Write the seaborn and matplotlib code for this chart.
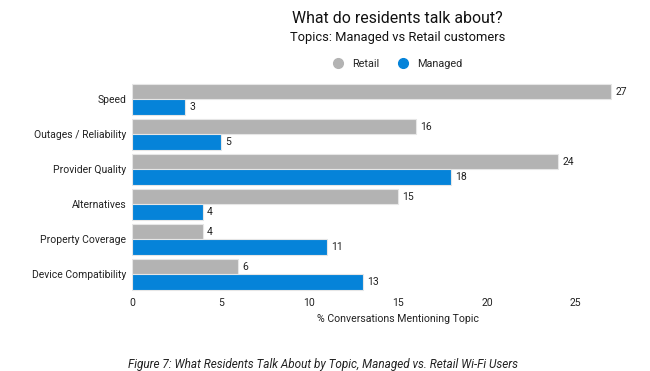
import matplotlib
matplotlib.use("Agg")
import matplotlib.pyplot as plt
import seaborn as sns
import pandas as pd
from matplotlib.lines import Line2D

categories = ["Speed", "Outages / Reliability", "Provider Quality", "Alternatives",
              "Property Coverage", "Device Compatibility"]
retail = [27, 16, 24, 15, 4, 6]
managed = [3, 5, 18, 4, 11, 13]
series_names = ["Retail", "Managed"]
xticks = [0, 5, 10, 15, 20, 25]

df = pd.DataFrame({
    "topic": categories * 2,
    "value": retail + managed,
    "series": [series_names[0]] * len(categories) + [series_names[1]] * len(categories),
})

sns.set_theme(style="white")
plt.rcParams["font.family"] = ["Roboto", "DejaVu Sans"]

fig = plt.figure(figsize=(6.5, 3.71), dpi=100)
ax = fig.add_axes([0.203, 0.213, 0.751, 0.566])

palette = {"Retail": "#b3b3b3", "Managed": "#0583d9"}
sns.barplot(data=df, y="topic", x="value", hue="series", palette=palette,
            order=categories, hue_order=series_names, width=0.86,
            orient="h", ax=ax, edgecolor="#e6e6e6", linewidth=0.8, saturation=1,
            legend=False)

for cont in ax.containers:
    ax.bar_label(cont, labels=[f"{v:g}" for v in cont.datavalues], padding=3,
                 fontsize=7.5, color="#222222")

ax.set_xlim(0, 27.5)
ax.set_xticks(xticks)
ax.set_xticklabels([str(t) for t in xticks])
ax.tick_params(axis="both", length=0, labelsize=7.5, colors="#222222", pad=4)
ax.set_ylabel("")
ax.set_xlabel("% Conversations Mentioning Topic", fontsize=7.6, color="#222222")
ax.xaxis.set_label_coords(0.545, -0.105)
for s in ax.spines.values():
    s.set_visible(False)

fig.text(0.611, 0.951, "What do residents talk about?", ha="center", va="center",
         fontsize=11.4, color="#111111")
fig.text(0.612, 0.899, "Topics: Managed vs Retail customers", ha="center", va="center",
         fontsize=9.3, color="#111111")

handles = [Line2D([], [], marker="o", linestyle="", markersize=7,
                  markerfacecolor=palette[n], markeredgecolor=palette[n]) for n in series_names]
fig.legend(handles, series_names, loc="center", bbox_to_anchor=(0.608, 0.827), ncol=2,
           frameon=False, fontsize=7.8, handletextpad=0.3, columnspacing=1.2)

fig.text(0.497, 0.017, "Figure 7: What Residents Talk About by Topic, Managed vs. Retail Wi-Fi Users",
         ha="center", va="center", fontsize=8.5, style="italic", color="#222222")

fig.savefig("out.png", dpi=100)
